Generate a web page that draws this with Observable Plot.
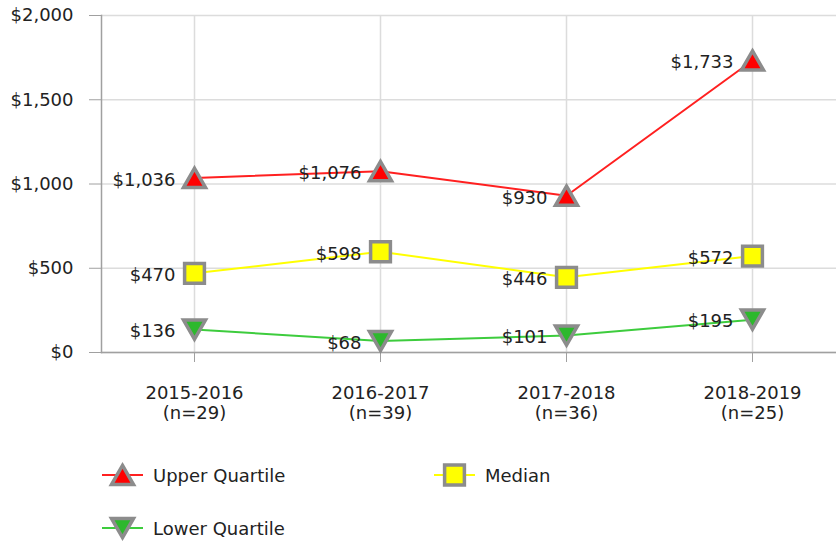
<!DOCTYPE html>
<html>
<head>
<meta charset="utf-8">
<script src="https://cdn.jsdelivr.net/npm/d3@7"></script>
<script src="https://cdn.jsdelivr.net/npm/@observablehq/plot@0.6"></script>
<style>
  html, body { margin: 0; padding: 0; background: #fff; }
  body { width: 836px; height: 543px; position: relative; overflow: hidden; font-family: "DejaVu Sans", Verdana, sans-serif; }
  #legend { position: absolute; left: 0; top: 0; width: 836px; height: 543px; pointer-events: none; }
  .item { position: absolute; display: flex; align-items: center; font-size: 18px; color: #222; }
  .item svg { margin-right: 10px; }
</style>
</head>
<body>
<div id="chart"></div>
<div id="legend"></div>
<script>
const categories = ["2015-2016", "2016-2017", "2017-2018", "2018-2019"];
const sampleLabels = ["(n=29)", "(n=39)", "(n=36)", "(n=25)"];
const upperQuartile = [1036, 1076, 930, 1733];
const median = [470, 598, 446, 572];
const lowerQuartile = [136, 68, 101, 195];
const yTicks = [0, 500, 1000, 1500, 2000];

const seriesDefs = [
  {name: "Upper Quartile", values: upperQuartile, line: "#ff2020", fill: "#ff0000", symbol: "up"},
  {name: "Median", values: median, line: "#ffff00", fill: "#ffff00", symbol: "square"},
  {name: "Lower Quartile", values: lowerQuartile, line: "#3dcc3d", fill: "#2db82d", symbol: "down"}
];

const upTri = {draw(ctx, size) { const a = Math.sqrt(size / Math.PI); const w = 2 * a, h = 0.87 * w;
  ctx.moveTo(0, -h / 2); ctx.lineTo(w / 2, h / 2); ctx.lineTo(-w / 2, h / 2); ctx.closePath(); }};
const downTri = {draw(ctx, size) { const a = Math.sqrt(size / Math.PI); const w = 2 * a, h = 0.87 * w;
  ctx.moveTo(0, h / 2); ctx.lineTo(w / 2, -h / 2); ctx.lineTo(-w / 2, -h / 2); ctx.closePath(); }};
const sq = {draw(ctx, size) { const a = Math.sqrt(size / Math.PI); const s = 0.9 * a;
  ctx.rect(-s, -s, 2 * s, 2 * s); }};
const symbols = {up: upTri, down: downTri, square: sq};

const rows = seriesDefs.flatMap(s => categories.map((c, i) => ({cat: c, value: s.values[i], series: s.name})));
const fmt = v => "$" + d3.format(",")(v);

const marks = [
  Plot.gridY(yTicks, {stroke: "#dcdcdc", strokeOpacity: 1, strokeWidth: 1.5}),
  Plot.gridX(categories, {stroke: "#dcdcdc", strokeOpacity: 1, strokeWidth: 1.5}),
  Plot.frame({anchor: "left", stroke: "#a0a0a0", strokeWidth: 1.5}),
  Plot.frame({anchor: "bottom", stroke: "#a0a0a0", strokeWidth: 1.5}),
  Plot.axisY(yTicks, {label: null, tickSize: 12, tickPadding: 16, stroke: "#a0a0a0", tickFormat: fmt, fontSize: 18, fill: "#222"}),
  Plot.axisX(categories, {label: null, tickSize: 10, tickPadding: 22, stroke: "#a0a0a0", fontSize: 18, fill: "#222", lineHeight: 1.12,
    tickFormat: (d) => d + "\n" + sampleLabels[categories.indexOf(d)]})
];
for (const s of seriesDefs) {
  const data = rows.filter(r => r.series === s.name);
  marks.push(Plot.line(data, {x: "cat", y: "value", stroke: s.line, strokeWidth: 2}));
}
for (const s of seriesDefs) {
  const data = rows.filter(r => r.series === s.name);
  marks.push(Plot.dot(data, {x: "cat", y: "value", symbol: symbols[s.symbol], r: 11, fill: s.fill, stroke: "#8c8c8c", strokeWidth: 3.5}));
  marks.push(Plot.text(data, {x: "cat", y: "value", text: d => fmt(d.value), textAnchor: "end", dx: -19, dy: 2, fontSize: 18, fill: "#222"}));
}

const chart = Plot.plot({
  width: 836,
  height: 445,
  marginLeft: 101,
  marginRight: 0,
  marginTop: 15,
  marginBottom: 93,
  style: {fontFamily: "DejaVu Sans, Verdana, sans-serif", fontSize: "18px", background: "#fff", overflow: "visible"},
  x: {type: "point", domain: categories, range: [194, 752], padding: 0, axis: null},
  y: {domain: [0, 2000], axis: null},
  marks
});
document.getElementById("chart").appendChild(chart);

// Legend
const legendPos = [
  {left: 102, top: 460},
  {left: 434, top: 460},
  {left: 102, top: 513}
];
const legend = document.getElementById("legend");
seriesDefs.forEach((s, i) => {
  const div = document.createElement("div");
  div.className = "item";
  div.style.left = legendPos[i].left + "px";
  div.style.top = legendPos[i].top + "px";
  const sw = d3.create("svg").attr("width", 41).attr("height", 30);
  sw.append("line").attr("x1", 0).attr("x2", 41).attr("y1", 15).attr("y2", 15).attr("stroke", s.line).attr("stroke-width", 2);
  const p = d3.path();
  symbols[s.symbol].draw(p, Math.PI * 11 * 11);
  sw.append("path").attr("d", p.toString()).attr("transform", "translate(20.5,15)")
    .attr("fill", s.fill).attr("stroke", "#8c8c8c").attr("stroke-width", 3.5);
  div.appendChild(sw.node());
  const span = document.createElement("span");
  span.textContent = s.name;
  div.appendChild(span);
  legend.appendChild(div);
});
</script>
</body>
</html>
